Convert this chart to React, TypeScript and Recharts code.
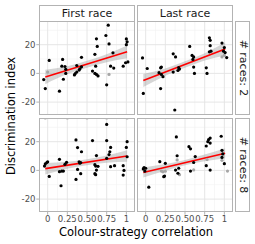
import React from 'react';
import { ComposedChart, Scatter, Line, Area, XAxis, YAxis, CartesianGrid } from 'recharts';

// ---- axis / labels ----
const xTicks = [0, 0.25, 0.5, 0.75, 1];
const xTickLabels = ['0', '0.25', '0.50', '0.75', '1'];
const xMinor = [0.125, 0.375, 0.625, 0.875];
const yTicks = [-20, 0, 20];
const yMinor = [-10, 10, 30];
const colLabels = ['First race', 'Last race'];
const rowLabels = ['# races: 2', '# races: 8'];
const xTitle = 'Colour-strategy correlation';
const yTitle = 'Discrimination index';

// ---- points [x, y] ----
const firstRace2Pts = [
  [-0.05, -4.3], [-0.03, -10.6], [0.02, 9], [0.15, -12.4], [0.18, 5], [0.19, 9.7], [0.2, -4.1],
  [0.22, 4.8], [0.23, 2.8], [0.23, 0], [0.34, -1.1], [0.35, -0.2], [0.37, 0.9], [0.37, 5.5],
  [0.4, 2.3], [0.41, 3.2], [0.43, 4.6], [0.43, 11.2], [0.57, 1.6], [0.6, 13.3], [0.61, 5],
  [0.6, 0], [0.62, -0.7], [0.64, -1.8], [0.62, 24.1], [0.63, 18.8], [0.75, -8], [0.74, 26.4],
  [0.77, 33.6], [0.78, 20.5], [0.8, 5], [0.83, 14.3], [0.84, 3.7], [0.96, 5], [0.99, 7.4],
  [1.0, 24], [1.01, 22], [1.0, 20], [1.02, 8],
];
const firstRace2Grey = [[0.0, 0.9], [0.78, -0.7]];

const lastRace2Pts = [
  [-0.04, 10.8], [-0.03, -14], [0.02, 3.4], [0.17, 0.5], [0.19, 3.9], [0.2, 4.4], [0.2, -0.7],
  [0.22, -2.3], [0.19, -10.6], [0.35, 13.6], [0.38, 11.5], [0.35, 0.9], [0.37, -25.5],
  [0.41, 2], [0.42, 4], [0.43, 3], [0.56, 18.8], [0.59, 12.5], [0.61, 11.5], [0.6, 9.7],
  [0.61, 4.4], [0.62, 0], [0.77, 3.9], [0.78, 0], [0.81, 24.8], [0.82, 23], [0.82, 19.3],
  [0.81, 15], [0.83, 15.5], [0.97, 21.1], [1.0, 18], [0.99, 15.5], [1.01, 14.5], [1.03, 11],
];
const lastRace2Grey = [[0.97, 11.5], [1.0, 12.5]];

const firstRace8Pts = [
  [-0.04, 3], [-0.03, 4.5], [-0.01, 5.5], [0.0, 6], [0.02, -4.2], [0.15, 7.7], [0.15, -0.9],
  [0.18, -0.5], [0.17, -10.7], [0.2, -0.5], [0.22, 4.2], [0.24, 5.6], [0.36, 21.2], [0.38, 15.9],
  [0.36, -6.3], [0.38, 0.7], [0.4, 6], [0.41, 5], [0.42, 5.5], [0.43, 13], [0.42, -2.3],
  [0.57, 20.8], [0.6, 4], [0.61, 3], [0.6, -2.3], [0.61, -3], [0.62, 0.2], [0.62, 10.3],
  [0.64, 2.8], [0.75, 32], [0.75, 20.8], [0.75, 8.4], [0.78, 11], [0.79, 13], [0.8, 16],
  [0.8, 2.6], [0.85, 3.3], [0.96, 3.3], [0.97, 0], [0.96, -3.3], [1.01, 20], [1.0, 16], [1.01, 9.5],
];
const firstRace8Grey: number[][] = [];

const lastRace8Pts = [
  [-0.03, 1], [-0.02, 2], [0.0, 1.5], [-0.01, -0.5], [0.04, -11.7], [0.18, 6.1], [0.23, -4.4],
  [0.24, -4], [0.25, 4.9], [0.39, 23.3], [0.4, 10.2], [0.38, 0.2], [0.41, -2], [0.42, 1.5],
  [0.55, 16.5], [0.57, 15], [0.57, -0.5], [0.63, 9.6], [0.61, 5.5], [0.77, 17], [0.79, 20],
  [0.8, 21.5], [0.82, 22.5], [0.82, 19], [0.77, 3.3], [0.82, 0.2], [0.96, 23.8], [0.97, 14],
  [0.98, 11.5], [0.97, 9], [1.0, 4.7],
];
const lastRace8Grey = [
  [0.2, -0.5], [0.22, -1], [0.25, -0.6], [0.4, 7.3], [0.43, -3], [0.61, 0.3], [0.78, 7.5],
  [1.04, -0.5], [0.97, 7],
];

// ---- fitted line & confidence band ----
const bandX = [-0.03, 0.25, 0.5, 0.75, 1.01];
const firstRace2Fit = [-2.5, 15];
const firstRace2Lo = [-7.5, -0.5, 4, 7.8, 10.5];
const firstRace2Hi = [2.5, 4.9, 8.8, 13.4, 19.5];
const lastRace2Fit = [-5, 17];
const lastRace2Lo = [-9.5, -1.6, 4, 9, 12.5];
const lastRace2Hi = [-0.5, 3.4, 8.4, 14, 21.5];
const firstRace8Fit = [1.2, 10];
const firstRace8Lo = [-2.8, 1.2, 3.6, 5.3, 6];
const firstRace8Hi = [5.2, 6, 7.8, 10.3, 14];
const lastRace8Fit = [-1.5, 12];
const lastRace8Lo = [-5, -0.2, 3.5, 6.3, 8.5];
const lastRace8Hi = [2, 4.4, 7.3, 11.1, 15.5];

const FONT = '"DejaVu Sans", sans-serif';
const BORDER = '#b3b3b3';
const X_DOMAIN: [number, number] = [-0.11, 1.11];
const Y_DOMAIN: [number, number] = [-29, 36.5];

const toPts = (arr: number[][]) => arr.map(([x, y]) => ({ x, y }));
const fitRows = (fit: number[], lo: number[], hi: number[]) =>
  bandX.map((x, i) => ({
    x,
    band: [lo[i], hi[i]],
    fit: i === 0 ? fit[0] : i === bandX.length - 1 ? fit[1] : null,
  }));

const dot = (color: string) => (props: any) => (
  <circle cx={props.cx} cy={props.cy} r={1.6} fill={color} />
);

type PanelProps = {
  left: number;
  top: number;
  showY: boolean;
  showX: boolean;
  pts: number[][];
  grey: number[][];
  fit: number[];
  lo: number[];
  hi: number[];
};

const PW = 96;
const PH = 94;
const YW = 39;
const XH = 20;

function Panel({ left, top, showY, showX, pts, grey, fit, lo, hi }: PanelProps) {
  const width = PW + (showY ? YW : 0);
  const height = PH + (showX ? XH : 0);
  return (
    <div style={{ position: 'absolute', left: left - (showY ? YW : 0), top, width, height }}>
      <ComposedChart
        width={width}
        height={height}
        data={fitRows(fit, lo, hi)}
        margin={{ top: 0, right: 0, bottom: 0, left: 0 }}
      >
        <CartesianGrid
          horizontalValues={yMinor}
          verticalValues={xMinor}
          stroke="#f1f1f1"
          strokeWidth={0.6}
        />
        <CartesianGrid
          horizontalValues={yTicks}
          verticalValues={xTicks}
          stroke="#e3e3e3"
          strokeWidth={0.9}
        />
        <XAxis
          dataKey="x"
          type="number"
          domain={X_DOMAIN}
          allowDataOverflow
          ticks={xTicks}
          interval={0}
          hide={!showX}
          height={XH}
          tickFormatter={(v: number) => xTickLabels[xTicks.indexOf(v)] ?? String(v)}
          tick={{ fill: '#4d4d4d', fontSize: 8.5, fontFamily: FONT }}
          tickLine={{ stroke: BORDER }}
          tickSize={2.7}
          tickMargin={1.5}
          axisLine={false}
        />
        <YAxis
          type="number"
          domain={Y_DOMAIN}
          allowDataOverflow
          ticks={yTicks}
          interval={0}
          hide={!showY}
          width={YW}
          tick={{ fill: '#4d4d4d', fontSize: 8.5, fontFamily: FONT }}
          tickLine={{ stroke: BORDER }}
          tickSize={2.7}
          tickMargin={0.8}
          axisLine={false}
        />
        <Scatter data={toPts(grey)} dataKey="y" shape={dot('#a6a6a6')} isAnimationActive={false} />
        <Scatter data={toPts(pts)} dataKey="y" shape={dot('#000000')} isAnimationActive={false} />
        <Area
          dataKey="band"
          type="monotone"
          fill="#999999"
          fillOpacity={0.4}
          stroke="none"
          isAnimationActive={false}
          activeDot={false}
        />
        <Line
          dataKey="fit"
          connectNulls
          stroke="#ff0000"
          strokeWidth={1.6}
          dot={false}
          activeDot={false}
          isAnimationActive={false}
        />
      </ComposedChart>
    </div>
  );
}

const boxStyle = (left: number, top: number, width: number, height: number): React.CSSProperties => ({
  position: 'absolute',
  left,
  top,
  width,
  height,
  boxSizing: 'border-box',
  border: `1px solid ${BORDER}`,
  pointerEvents: 'none',
});

export default function App() {
  const colX = [39, 137];
  const rowY = [21, 118];
  return (
    <div
      style={{
        position: 'absolute',
        left: 0,
        top: 0,
        width: 255,
        height: 244,
        background: '#ffffff',
        fontFamily: FONT,
        overflow: 'hidden',
      }}
    >
      <Panel left={colX[0]} top={rowY[0]} showY showX={false} pts={firstRace2Pts} grey={firstRace2Grey} fit={firstRace2Fit} lo={firstRace2Lo} hi={firstRace2Hi} />
      <Panel left={colX[1]} top={rowY[0]} showY={false} showX={false} pts={lastRace2Pts} grey={lastRace2Grey} fit={lastRace2Fit} lo={lastRace2Lo} hi={lastRace2Hi} />
      <Panel left={colX[0]} top={rowY[1]} showY showX pts={firstRace8Pts} grey={firstRace8Grey} fit={firstRace8Fit} lo={firstRace8Lo} hi={firstRace8Hi} />
      <Panel left={colX[1]} top={rowY[1]} showY={false} showX pts={lastRace8Pts} grey={lastRace8Grey} fit={lastRace8Fit} lo={lastRace8Lo} hi={lastRace8Hi} />

      {/* panel borders */}
      {rowY.map((ry) =>
        colX.map((cx) => <div key={`${cx}-${ry}`} style={boxStyle(cx, ry, PW, PH)} />)
      )}

      {/* column strips */}
      {colX.map((cx, i) => (
        <div
          key={`col-${i}`}
          style={{
            ...boxStyle(cx, 5, PW, 17),
            display: 'flex',
            alignItems: 'center',
            justifyContent: 'center',
            fontSize: 11,
            color: '#1a1a1a',
          }}
        >
          {colLabels[i]}
        </div>
      ))}

      {/* row strips */}
      {rowY.map((ry, i) => (
        <div key={`row-${i}`} style={{ ...boxStyle(235, ry, 15, PH) }}>
          <div
            style={{
              position: 'absolute',
              left: '50%',
              top: '50%',
              transform: 'translate(-50%, -50%) rotate(90deg)',
              whiteSpace: 'nowrap',
              fontSize: 11,
              color: '#1a1a1a',
            }}
          >
            {rowLabels[i]}
          </div>
        </div>
      ))}

      {/* axis titles */}
      <div
        style={{
          position: 'absolute',
          left: 136,
          top: 232,
          transform: 'translate(-50%, -50%)',
          whiteSpace: 'nowrap',
          fontSize: 11.5,
          color: '#000',
        }}
      >
        {xTitle}
      </div>
      <div
        style={{
          position: 'absolute',
          left: 11,
          top: 116,
          transform: 'translate(-50%, -50%) rotate(-90deg)',
          whiteSpace: 'nowrap',
          fontSize: 11.5,
          color: '#000',
        }}
      >
        {yTitle}
      </div>
    </div>
  );
}
